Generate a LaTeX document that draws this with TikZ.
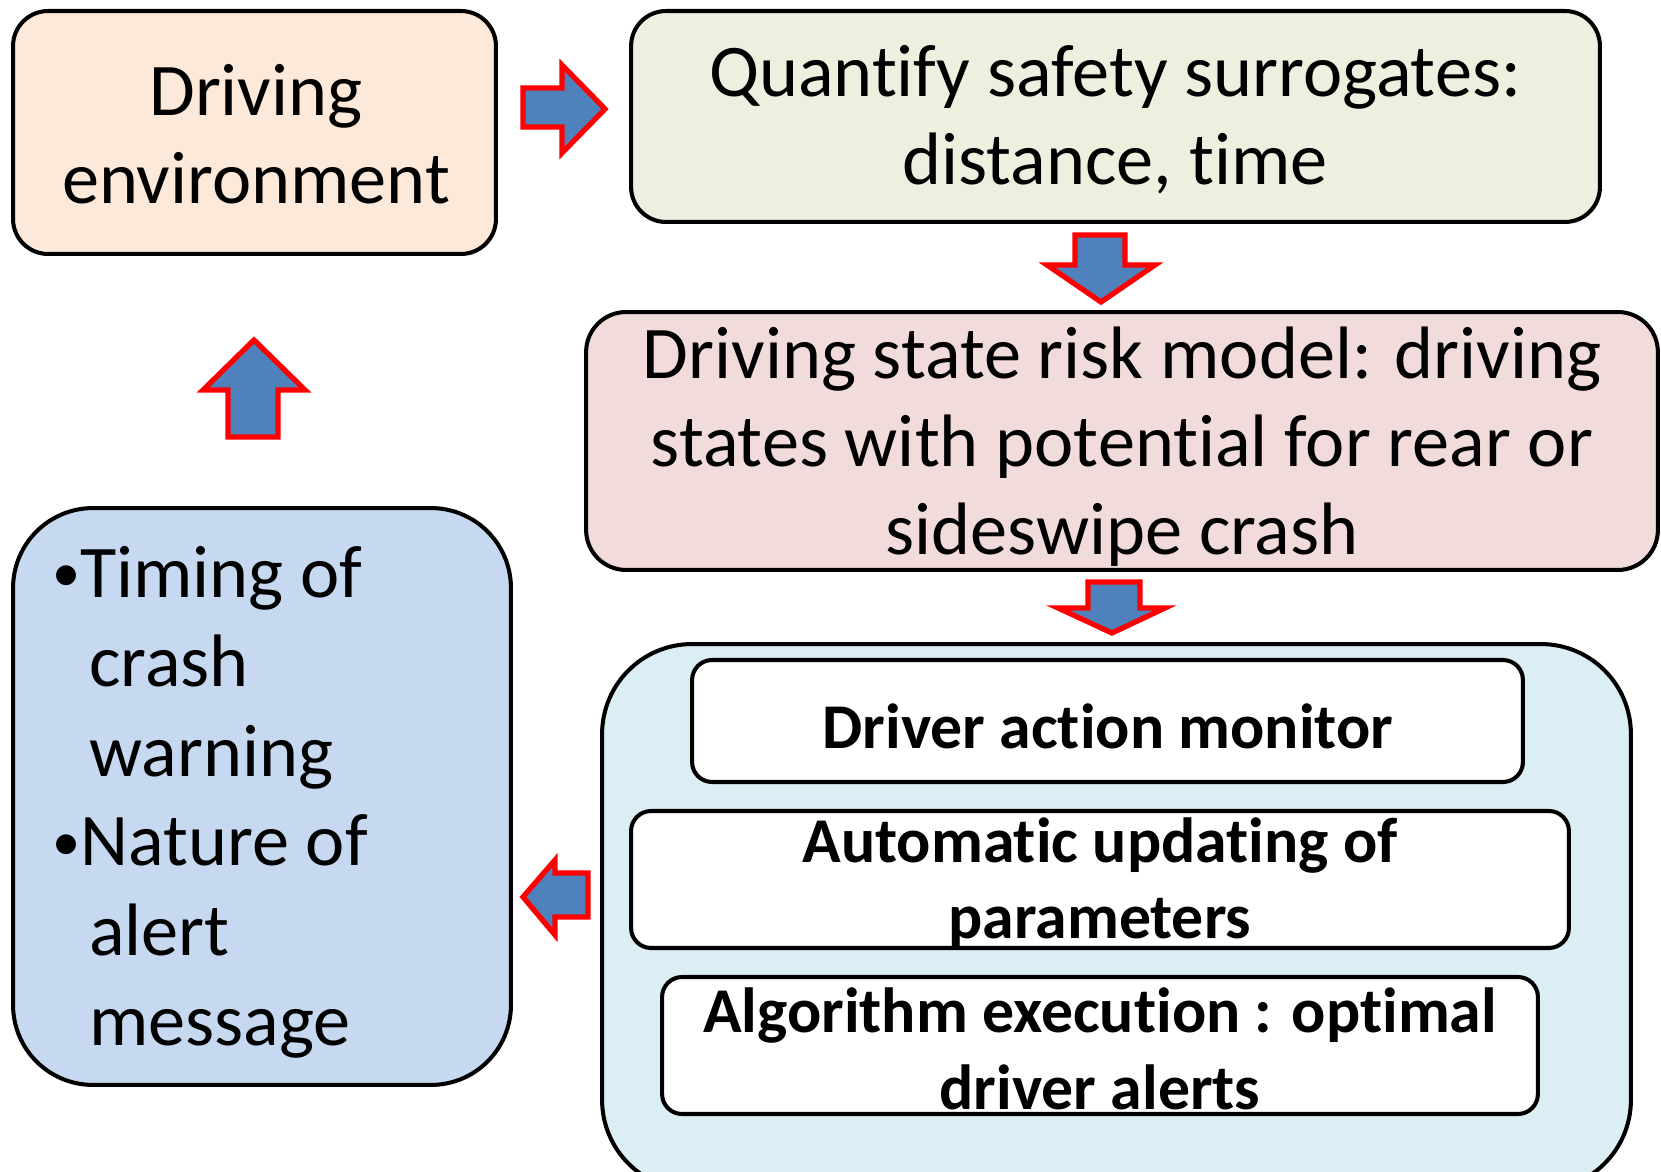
\documentclass[tikz,border=0pt]{standalone}
\usepackage{fontspec}
\setmainfont{Carlito}[Ligatures=NoCommon]
\usetikzlibrary{positioning}

\definecolor{envfill}{HTML}{FDE9D9}
\definecolor{quantfill}{HTML}{EBF1DE}
\definecolor{riskfill}{HTML}{F2DCDB}
\definecolor{procfill}{HTML}{DBEEF4}
\definecolor{alertfill}{HTML}{C6D9F1}
\definecolor{arrowblue}{HTML}{4F81BD}

\newcommand{\dotitem}{\makebox[0.56cm][l]{\raisebox{0.08em}{\fontsize{32}{32}\selectfont•}}}
\newcommand{\dotcont}{\hspace*{0.74cm}}

\tikzset{
  box/.style={draw=black, line width=2.3pt, inner sep=0pt},
  bigtext/.style={align=center, inner sep=0pt, font=\fontsize{42.3}{50}\selectfont},
  boldtext/.style={align=center, inner sep=0pt, font=\fontsize{36.3}{43.5}\selectfont\bfseries},
  blockarrow/.style={draw=red, fill=arrowblue, line width=3pt, line join=miter},
}

\begin{document}
\begin{tikzpicture}[x=0.02cm, y=-0.02cm]
  \useasboundingbox (0,0) rectangle (1661,1172);
  \clip (0,0) rectangle (1661,1172);

  % boxes
  \node[box, fill=envfill, rounded corners=0.7cm, minimum width=9.66cm, minimum height=4.86cm] (env) at (254.5,132.5) {};
  \node[box, fill=quantfill, rounded corners=0.7cm, minimum width=19.38cm, minimum height=4.22cm] (quant) at (1115.5,116.5) {};
  \node[box, fill=riskfill, rounded corners=0.8cm, minimum width=21.44cm, minimum height=5.16cm] (risk) at (1122,441) {};
  \node[box, fill=procfill, rounded corners=1.8cm, minimum width=20.58cm, minimum height=10.92cm] (proc) at (1116.5,917) {};
  \node[box, fill=white, rounded corners=0.4cm, minimum width=16.62cm, minimum height=2.44cm] (monitor) at (1107.5,721) {};
  \node[box, fill=white, rounded corners=0.4cm, minimum width=18.76cm, minimum height=2.74cm] (update) at (1100,879.5) {};
  \node[box, fill=white, rounded corners=0.4cm, minimum width=17.52cm, minimum height=2.74cm] (algo) at (1100,1045.5) {};
  \node[box, fill=alertfill, rounded corners=1.6cm, minimum width=9.96cm, minimum height=11.54cm] (alert) at (262,796.5) {};

  % texts
  \node[bigtext] (envtext) at (256,134) {Driving\\environment};
  \node[bigtext] (quanttext) at (1115,120) {Quantify safety surrogates:\\distance, time};
  \node[bigtext] (risktext) at (1122,447) {Driving state risk model: driving\\states with potential for rear or\\sideswipe\ crash};
  \node[boldtext] (monitortext) at (1108,726) {Driver action monitor};
  \node[boldtext] (updatetext) at (1100,883) {Automatic updating of\\parameters};
  \node[boldtext] (algotext) at (1100,1049) {Algorithm execution : optimal\\driver alerts};
  \node[align=left, anchor=west, inner sep=0pt, font=\fontsize{42.3}{51}\selectfont] (alerttext) at (52,802)
    {\dotitem Timing of\\\dotcont crash\\\dotcont warning\\\dotitem Nature of\\\dotcont alert\\\dotcont message};

  % block arrows
  \draw[blockarrow] (523,88) -- (562,88) -- (562,65) -- (605,109) -- (562,153) -- (562,127) -- (523,127) -- cycle;
  \draw[blockarrow] (1075,235) -- (1125,235) -- (1125,265) -- (1155,265) -- (1101,302) -- (1047,265) -- (1075,265) -- cycle;
  \draw[blockarrow] (1088,582) -- (1140,582) -- (1140,608) -- (1165,608) -- (1112,633) -- (1058,608) -- (1088,608) -- cycle;
  \draw[blockarrow] (588,873) -- (555,873) -- (555,860) -- (523,897) -- (555,935) -- (555,917) -- (588,917) -- cycle;
  \draw[blockarrow] (228,437) -- (228,390) -- (203,390) -- (254,340) -- (305,390) -- (278,390) -- (278,437) -- cycle;
\end{tikzpicture}
\end{document}
